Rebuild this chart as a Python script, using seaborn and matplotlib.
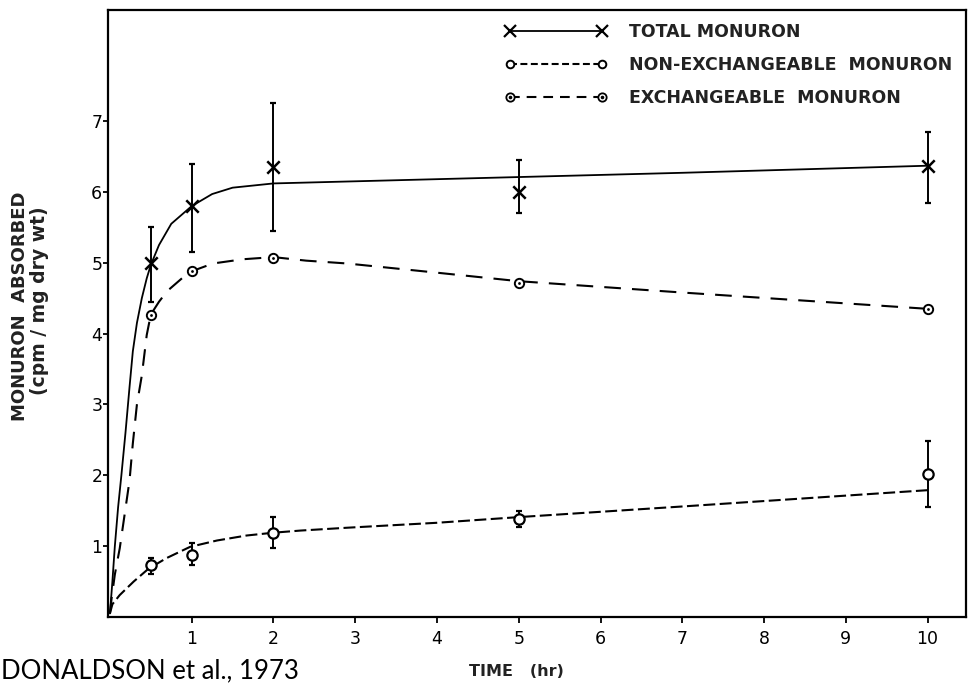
import matplotlib
matplotlib.use("Agg")
import matplotlib.pyplot as plt
from matplotlib.lines import Line2D
import numpy as np
import pandas as pd
import seaborn as sns

# ---- data ----
time = [0.5, 1, 2, 5, 10]
total = [5.0, 5.8, 6.35, 6.0, 6.37]
total_lo = [4.45, 5.15, 5.45, 5.7, 5.85]
total_hi = [5.5, 6.4, 7.25, 6.45, 6.85]
exch = [4.26, 4.88, 5.07, 4.72, 4.35]
nonexch = [0.73, 0.87, 1.18, 1.38, 2.02]
nonexch_lo = [0.61, 0.73, 0.97, 1.27, 1.55]
nonexch_hi = [0.83, 1.04, 1.41, 1.50, 2.49]

total_curve_x = [0.0, 0.03, 0.06, 0.10, 0.14, 0.19, 0.24, 0.28, 0.33, 0.39, 0.45, 0.5,
                 0.6, 0.75, 1.0, 1.25, 1.5, 2.0, 3.0, 4.0, 5.0, 7.0, 10.0]
total_curve_y = [0.05, 0.5, 1.0, 1.55, 2.0, 2.6, 3.25, 3.75, 4.15, 4.5, 4.78, 4.97,
                 5.25, 5.55, 5.8, 5.97, 6.06, 6.12, 6.15, 6.18, 6.21, 6.27, 6.37]
exch_curve_x = [0.0, 0.02, 0.06, 0.12, 0.18, 0.24, 0.28, 0.33, 0.39, 0.45, 0.5, 0.6,
                0.7, 0.9, 1.0, 1.26, 1.63, 2.0, 2.4, 2.9, 4.0, 5.0, 7.0, 10.0]
exch_curve_y = [0.05, 0.26, 0.6, 0.97, 1.45, 1.93, 2.45, 3.0, 3.41, 3.98, 4.27, 4.45,
                4.6, 4.8, 4.88, 4.99, 5.05, 5.08, 5.03, 4.99, 4.86, 4.74, 4.58, 4.35]
nonexch_curve_x = [0.0, 0.03, 0.12, 0.29, 0.47, 0.69, 0.98, 1.31, 1.67, 2.0, 2.33, 2.9,
                   4.0, 5.0, 7.0, 10.0]
nonexch_curve_y = [0.05, 0.18, 0.31, 0.5, 0.68, 0.83, 0.99, 1.08, 1.15, 1.19, 1.22, 1.26,
                   1.33, 1.41, 1.56, 1.79]

x_ticks = [1, 2, 3, 4, 5, 6, 7, 8, 9, 10]
y_ticks = [1, 2, 3, 4, 5, 6, 7]
labels = ["TOTAL MONURON", "NON-EXCHANGEABLE  MONURON", "EXCHANGEABLE  MONURON"]

# ---- style ----
sns.set_theme(style="ticks")
plt.rcParams['font.family'] = ['DejaVu Sans']
plt.rcParams['lines.scale_dashes'] = False

fig = plt.figure(figsize=(9.68, 6.84), dpi=100)
ax = fig.add_axes([108.3 / 968, 1 - 617 / 684, (966 - 108.3) / 968, (617 - 9.5) / 684])

short_dash = (0, (8.6, 3.2))
long_dash = (0, (12.0, 8.0))

df_t = pd.DataFrame({"x": total_curve_x, "y": total_curve_y})
df_e = pd.DataFrame({"x": exch_curve_x, "y": exch_curve_y})
df_n = pd.DataFrame({"x": nonexch_curve_x, "y": nonexch_curve_y})

sns.lineplot(data=df_t, x="x", y="y", ax=ax, color="black", lw=1.3, sort=False)
sns.lineplot(data=df_e, x="x", y="y", ax=ax, color="black", lw=1.5, sort=False)
sns.lineplot(data=df_n, x="x", y="y", ax=ax, color="black", lw=1.5, sort=False)
lines = ax.get_lines()
lines[1].set_linestyle(long_dash)
lines[2].set_linestyle(short_dash)

# error bars
t_arr = np.array(total)
ax.errorbar(time, total, yerr=[t_arr - np.array(total_lo), np.array(total_hi) - t_arr],
            fmt="none", ecolor="black", elinewidth=1.4, capsize=2.5, capthick=1.6)
n_arr = np.array(nonexch)
ax.errorbar(time, nonexch, yerr=[n_arr - np.array(nonexch_lo), np.array(nonexch_hi) - n_arr],
            fmt="none", ecolor="black", elinewidth=1.4, capsize=2.5, capthick=1.6)

# markers
sns.scatterplot(x=time, y=total, ax=ax, marker="x", s=80, color="black", linewidth=1.8, zorder=5)
sns.scatterplot(x=time, y=nonexch, ax=ax, marker="o", s=55, facecolor="white",
                edgecolor="black", linewidth=1.6, zorder=5)
sns.scatterplot(x=time, y=exch, ax=ax, marker="o", s=45, facecolor="white",
                edgecolor="black", linewidth=1.4, zorder=5)
sns.scatterplot(x=time, y=exch, ax=ax, marker="o", s=4, color="black", linewidth=0, zorder=6)

ax.set_xlim(-0.02, 10.47)
ax.set_ylim(0, 8.575)
ax.set_xticks(x_ticks)
ax.set_yticks(y_ticks)
ax.set_xticklabels([str(v) for v in x_ticks])
ax.set_yticklabels([str(v) for v in y_ticks])
ax.tick_params(axis="x", direction="out", length=4.5, width=1.3, pad=5, labelsize=12.5, colors="black")
ax.tick_params(axis="y", direction="out", length=3.5, width=1.3, pad=0.8, labelsize=12.5, colors="black")
for s in ax.spines.values():
    s.set_linewidth(1.6)
    s.set_color("black")
ax.set_xlabel("")
ax.set_ylabel("")

# axis titles
fig.text(516 / 968, 1 - 671 / 684, "TIME   (hr)", ha="center", va="center", fontsize=11.5,
         fontweight="bold", color="#222222")
fig.text(20 / 968, 1 - 306 / 684, "MONURON  ABSORBED", rotation=90, ha="center", va="center",
         fontsize=13, fontweight="bold", color="#222222")
fig.text(40 / 968, 1 - 301 / 684, "(cpm / mg dry wt)", rotation=90, ha="center", va="center",
         fontsize=13.5, fontweight="bold", color="#222222")

fig.text(1 / 968, 1 - 671 / 684, "DONALDSON et al., 1973", ha="left", va="center",
         fontsize=18.5, family=["Lato", "DejaVu Sans"], color="black")

# legend
h_total = Line2D([], [], color="black", lw=1.3, marker="x", ms=8, mew=1.6)
h_non = Line2D([], [], color="black", lw=1.5, ls=(0, (5.0, 2.5)), marker="o", ms=5.5,
               mfc="white", mec="black", mew=1.4)
h_ex_a = Line2D([], [], color="black", lw=1.5, ls=(0, (7.0, 5.0)), marker="o", ms=6,
                mfc="white", mec="black", mew=1.3)
h_ex_b = Line2D([], [], color="black", lw=0, marker="o", ms=1.6, mfc="black", mec="black")
leg = fig.legend([h_total, h_non, (h_ex_a, h_ex_b)], labels,
                 loc="upper left", bbox_to_anchor=(505 / 968, 1 - 23 / 684),
                 frameon=False, numpoints=2, handlelength=5.9, handletextpad=1.25,
                 labelspacing=0.86, borderpad=0, borderaxespad=0,
                 prop={"size": 12.5, "weight": "bold"})
for t in leg.get_texts():
    t.set_color("#222222")

fig.savefig("out.png", dpi=100)
